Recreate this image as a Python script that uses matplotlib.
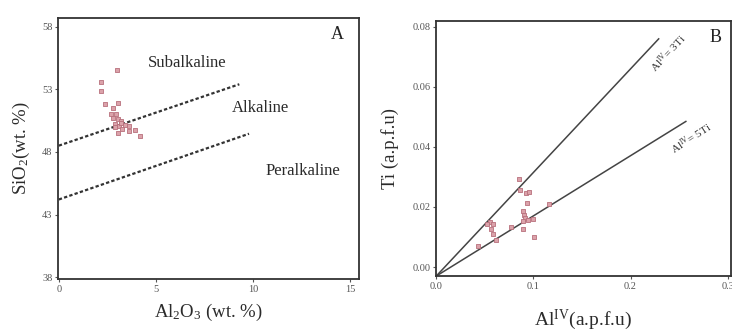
import matplotlib
matplotlib.use("Agg")
import matplotlib.pyplot as plt

plt.rcParams["font.family"] = "Liberation Serif"
plt.rcParams["mathtext.fontset"] = "custom"
plt.rcParams["mathtext.rm"] = "Liberation Serif"
plt.rcParams["mathtext.it"] = "Liberation Serif"

# panel A data (Al2O3 vs SiO2)
al2o3 = [3.0, 2.15, 2.18, 2.4, 3.06, 2.77, 2.68, 2.97, 2.8, 3.06, 3.23, 2.89,
         3.4, 3.1, 2.89, 3.28, 3.62, 3.06, 3.62, 3.92, 4.18, 3.2]
sio2 = [54.55, 53.56, 52.9, 51.85, 51.87, 51.5, 51.06, 51.06, 50.7, 50.66,
        50.44, 50.26, 50.18, 50.1, 49.99, 49.85, 50.1, 49.53, 49.63, 49.72,
        49.27, 50.3]
upper_line_x = [0, 9.3]
upper_line_y = [48.5, 53.4]
lower_line_x = [0, 9.8]
lower_line_y = [44.2, 49.45]

# panel B data (AlIV vs Ti)
al_iv = [0.0854, 0.0865, 0.0923, 0.095, 0.093, 0.089, 0.09, 0.0916, 0.089,
         0.094, 0.089, 0.0992, 0.1002, 0.116, 0.0557, 0.0523, 0.058, 0.0564,
         0.058, 0.0769, 0.0615, 0.0428]
ti = [0.0292, 0.0258, 0.0248, 0.025, 0.0213, 0.0187, 0.0175, 0.0165, 0.0153,
      0.0158, 0.0128, 0.0161, 0.010, 0.0211, 0.015, 0.0145, 0.0142, 0.0128,
      0.0111, 0.0133, 0.0089, 0.0069]
line3_x = [0, 0.229]
line3_y = [-0.003, 0.076]
line5_x = [0, 0.257]
line5_y = [-0.003, 0.0485]

mk_face = "#dba2aa"
mk_edge = "#b8707c"
spine_c = "#333333"
txt_c = "#2b2b2b"

fig = plt.figure(figsize=(7.32, 3.31), dpi=100)
ax1 = fig.add_axes([0.079, 0.157, 0.411, 0.789])
ax2 = fig.add_axes([0.596, 0.166, 0.402, 0.771])

for ax in (ax1, ax2):
    for s in ax.spines.values():
        s.set_linewidth(1.3)
        s.set_color(spine_c)
    ax.tick_params(length=2, width=0.8, labelsize=7.5, colors="#555555", pad=2)

# panel A
ax1.plot(upper_line_x, upper_line_y, ls=(0, (1.5, 1)), color="#333333", lw=1.6)
ax1.plot(lower_line_x, lower_line_y, ls=(0, (1.5, 1)), color="#333333", lw=1.6)
ax1.scatter(al2o3, sio2, marker="s", s=10, facecolor=mk_face, edgecolor=mk_edge, lw=0.6, zorder=3)
ax1.set_xlim(-0.05, 15.45)
ax1.set_ylim(37.85, 58.7)
ax1.set_xticks([0, 5, 10, 15])
ax1.set_yticks([38, 43, 48, 53, 58])
ax1.set_xlabel("Al$_2$O$_3$ (wt. %)", fontsize=13.5, color=txt_c, labelpad=6)
ax1.set_ylabel("SiO$_2$(wt. %)", fontsize=13.5, color=txt_c, labelpad=7)
ax1.text(6.6, 55.1, "Subalkaline", fontsize=12, ha="center", va="center", color=txt_c)
ax1.text(10.4, 51.5, "Alkaline", fontsize=12, ha="center", va="center", color=txt_c)
ax1.text(12.6, 46.5, "Peralkaline", fontsize=12, ha="center", va="center", color=txt_c)
ax1.text(14.35, 57.4, "A", fontsize=13, ha="center", va="center", color="#222222")

# panel B
ax2.plot(line3_x, line3_y, color="#444444", lw=1.1)
ax2.plot(line5_x, line5_y, color="#444444", lw=1.1)
ax2.scatter(al_iv, ti, marker="s", s=10, facecolor=mk_face, edgecolor=mk_edge, lw=0.6, zorder=3)
ax2.set_xlim(0, 0.303)
ax2.set_ylim(-0.003, 0.082)
ax2.set_xticks([0.0, 0.1, 0.2, 0.3])
ax2.set_xticklabels(["0.0", "0.1", "0.2", "0.3"])
ax2.set_yticks([0.0, 0.02, 0.04, 0.06, 0.08])
ax2.set_yticklabels(["0.00", "0.02", "0.04", "0.06", "0.08"])
ax2.set_xlabel("Al$^{\\rm IV}$(a.p.f.u)", fontsize=14, color=txt_c, labelpad=12)
ax2.set_ylabel("Ti (a.p.f.u)", fontsize=13.5, color=txt_c, labelpad=10)
ax2.text(0.239, 0.0712, "Al$^{IV}$= 3Ti", fontsize=8, rotation=47, ha="center", va="center", color="#333333")
ax2.text(0.2626, 0.0429, "Al$^{IV}$= 5Ti", fontsize=8, rotation=33, ha="center", va="center", color="#333333")
ax2.text(0.288, 0.0765, "B", fontsize=13, ha="center", va="center", color="#222222")

fig.savefig("out.png", dpi=100)
